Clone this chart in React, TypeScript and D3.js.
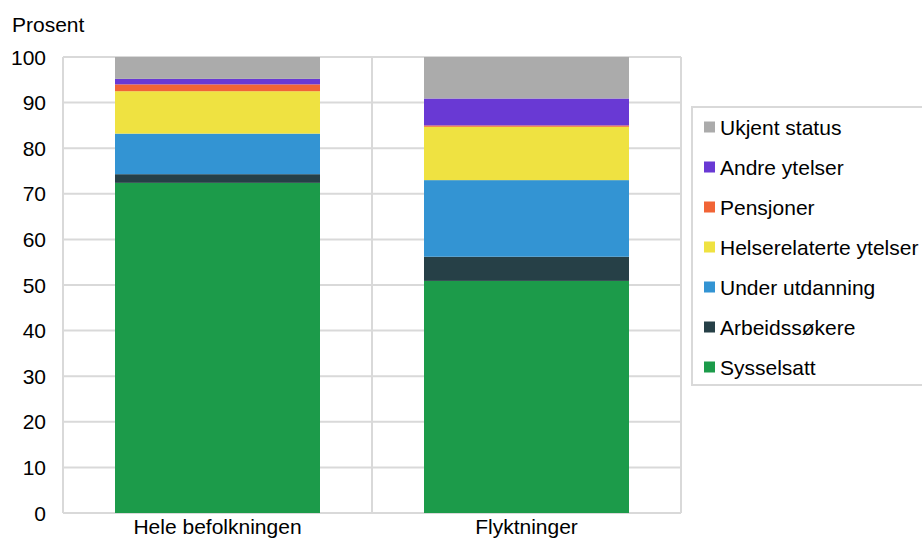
import React from "react";
import * as d3 from "d3";

const categories = ["Hele befolkningen", "Flyktninger"];
const seriesNames = [
  "Sysselsatt",
  "Arbeidssøkere",
  "Under utdanning",
  "Helserelaterte ytelser",
  "Pensjoner",
  "Andre ytelser",
  "Ukjent status",
];
const sysselsatt = [72.4, 50.9];
const arbeidssokere = [1.9, 5.3];
const underUtdanning = [8.9, 16.8];
const helse = [9.3, 11.7];
const pensjoner = [1.5, 0.3];
const andreYtelser = [1.2, 5.9];
const ukjent = [4.8, 9.1];
const colors = ["#1c9b4a", "#264047", "#3394d3", "#efe241", "#f16436", "#6939d4", "#ababab"];
const yTicks = [0, 10, 20, 30, 40, 50, 60, 70, 80, 90, 100];

export default function App() {
  const W = 922, H = 539;
  const left = 63, right = 681, top = 57, bottom = 513;
  const x = d3.scaleBand().domain(categories).range([left, right]).paddingInner(0).paddingOuter(0);
  const y = d3.scaleLinear().domain([0, 100]).range([bottom, top]);
  const barW = 205;
  const values = [sysselsatt, arbeidssokere, underUtdanning, helse, pensjoner, andreYtelser, ukjent];
  const rows = categories.map((c, i) => {
    const r: any = { cat: c };
    seriesNames.forEach((s, j) => (r[s] = values[j][i]));
    return r;
  });
  const stacked = d3.stack().keys(seriesNames)(rows);
  const font = "Liberation Sans, Arial, sans-serif";
  const grid = "#d9d9d9";
  const fs = 21;
  const legendOrder = [...seriesNames].reverse();
  return (
    <svg width={W} height={H} style={{ position: "absolute", left: 0, top: 0 }} fontFamily={font}>
      <rect width={W} height={H} fill="#fff" />
      <text x={12} y={32} fontSize={fs} fill="#000">Prosent</text>
      {yTicks.map((t) => (
        <g key={t}>
          <line x1={left} x2={right} y1={y(t)} y2={y(t)} stroke={grid} strokeWidth={2} />
          <text x={46} y={y(t) + 7.5} textAnchor="end" fontSize={fs} fill="#000">{t}</text>
        </g>
      ))}
      {[left, left + x.bandwidth(), right].map((xx, i) => (
        <line key={i} x1={xx} x2={xx} y1={top} y2={bottom} stroke={grid} strokeWidth={2} />
      ))}
      {stacked.map((layer, j) => (
        <g key={layer.key} fill={colors[j]}>
          {layer.map((d, i) => (
            <rect
              key={i}
              x={(x(categories[i]) as number) + x.bandwidth() / 2 - barW / 2}
              width={barW}
              y={y(d[1])}
              height={y(d[0]) - y(d[1])}
            />
          ))}
        </g>
      ))}
      {categories.map((c) => (
        <text key={c} x={(x(c) as number) + x.bandwidth() / 2} y={534} textAnchor="middle" fontSize={fs} fill="#000">{c}</text>
      ))}
      <rect x={692} y={107} width={260} height={278} fill="#fff" stroke={grid} strokeWidth={2} />
      {legendOrder.map((s, k) => {
        const cy = 127 + k * 40;
        const ci = seriesNames.indexOf(s);
        return (
          <g key={s}>
            <rect x={704} y={cy - 5.5} width={11} height={11} fill={colors[ci]} />
            <text x={720} y={cy + 7.5} fontSize={fs} fill="#000">{s}</text>
          </g>
        );
      })}
    </svg>
  );
}
